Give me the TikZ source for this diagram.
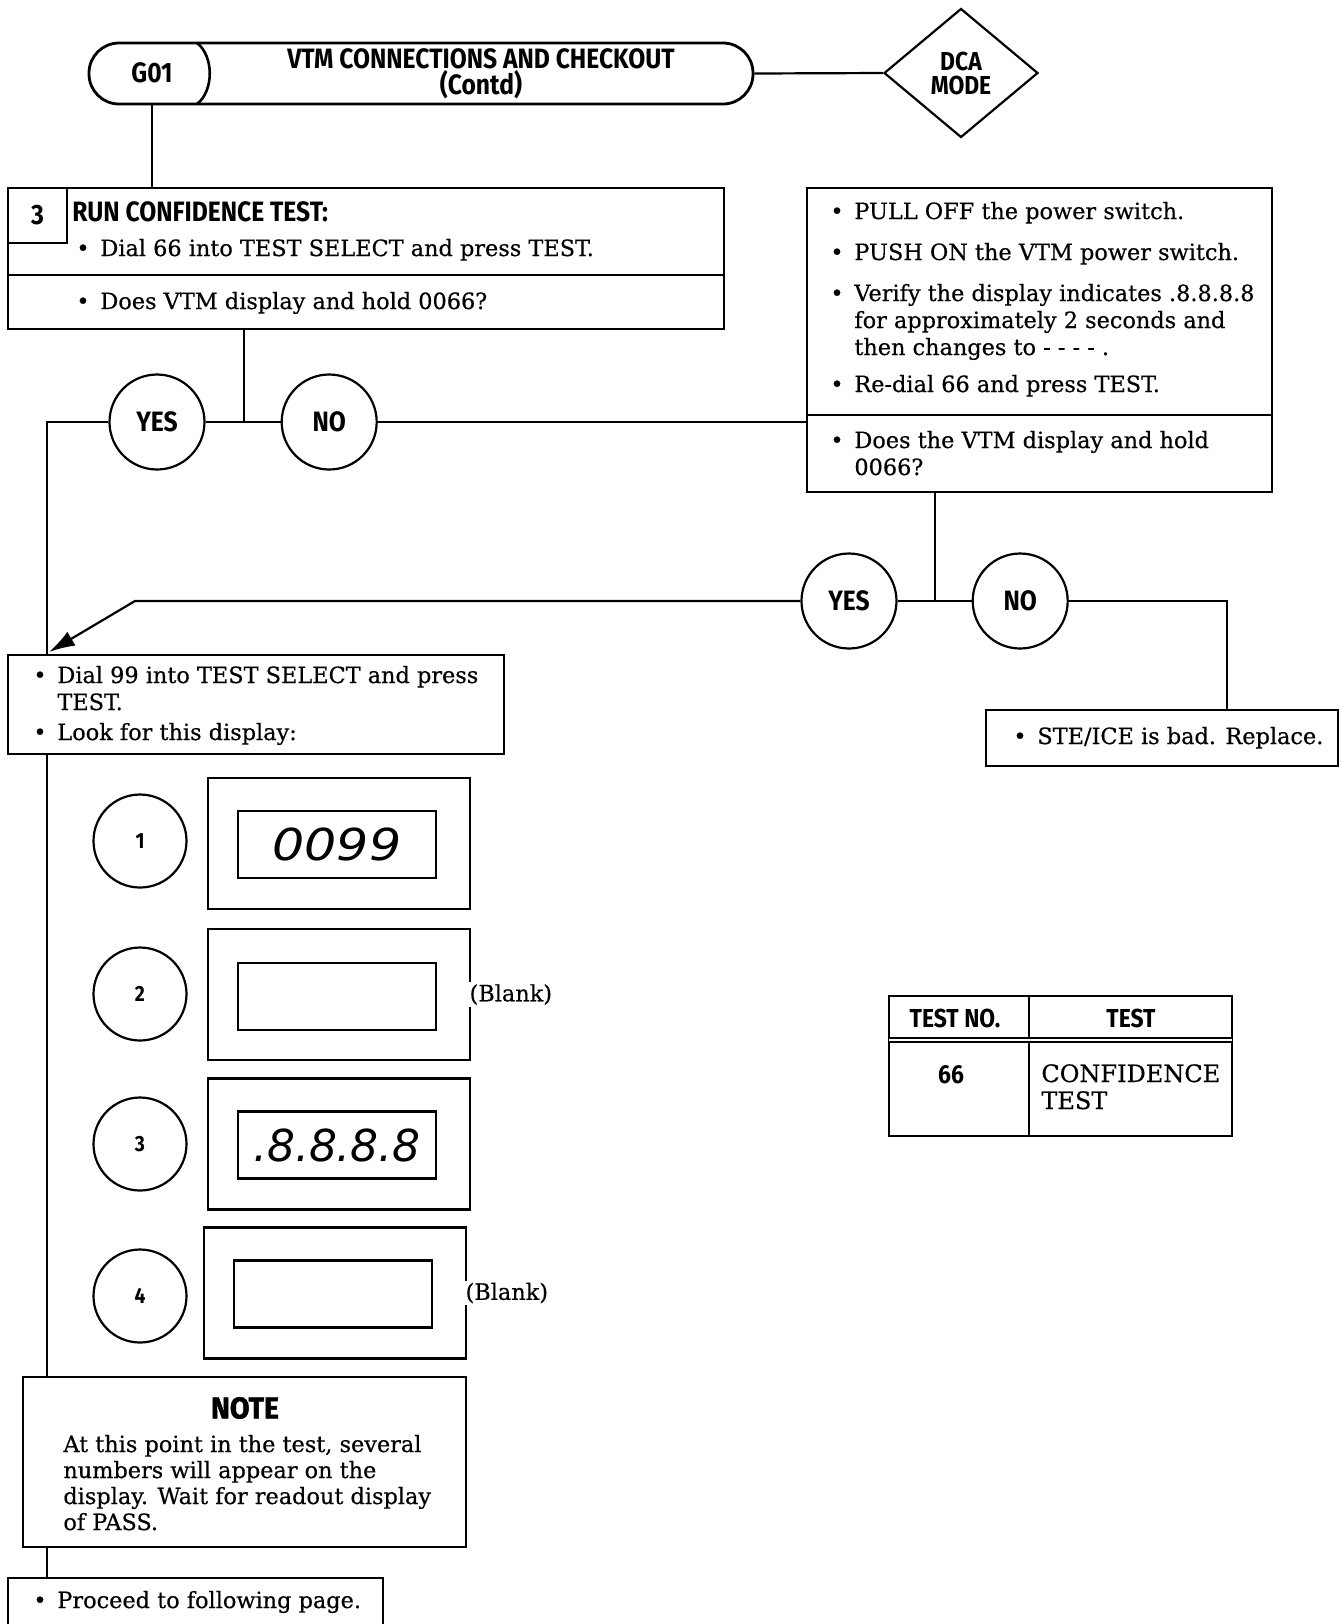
\documentclass[tikz,border=0pt]{standalone}
\usepackage{fontspec}
\setmainfont{DejaVu Serif}[FakeBold=0.5]
\newfontfamily\headfont[FakeStretch=0.88]{Fira Sans}
\newfontfamily\heavyfont[FakeStretch=0.95,FakeBold=1.6]{Fira Sans}
\newfontfamily\segfont{DejaVu Sans}
\usetikzlibrary{positioning,shapes.geometric,arrows.meta}

\newcommand{\bl}{\makebox[12pt][l]{\textbullet}}
\newcommand{\ind}{\hspace*{12pt}}
\newcommand{\lines}[1]{\begin{tabular}[t]{@{}l@{}}#1\end{tabular}}

\begin{document}
\begin{tikzpicture}[x=0.5pt, y=-0.5pt, font=\fontsize{11.2}{13.5}\selectfont,
          box/.style={draw, line width=1.4pt, inner sep=0pt},
          hd/.style={inner sep=0pt, font=\headfont\bfseries\fontsize{14}{12}\selectfont},
          ans/.style={draw, circle, line width=1.1pt, minimum size=47.5pt, inner sep=0pt,
                      font=\headfont\bfseries\fontsize{14}{14}\selectfont},
          num/.style={draw, circle, line width=1.1pt, minimum size=46.5pt, inner sep=0pt,
                      font=\headfont\bfseries\fontsize{11}{11}\selectfont},
          txt/.style={anchor=base west, inner sep=0pt},
          wire/.style={line width=1.1pt},
          disp/.style={draw, line width=1.2pt, minimum width=131pt, minimum height=65.5pt, inner sep=0pt},
          screen/.style={draw, line width=1.4pt, minimum width=99pt, minimum height=33.5pt, inner sep=0pt,
                         font=\segfont\itshape\fontsize{22}{22}\selectfont}]
        \useasboundingbox (0,0) rectangle (1341,1624);
        % header
        \node[box, rounded corners=15pt, minimum width=332pt, minimum height=30.5pt] (title) at (421,73.5) {};
        \draw[line width=1.3pt] (197,43) .. controls (214,56) and (214,91) .. (197,104);
        \node[hd] (g01) at (152,73) {G01};
        \node[hd, align=center] (ttl) at (481,74) {VTM CONNECTIONS AND CHECKOUT\\(Contd)};
        \node[box, diamond, line width=1.1pt, minimum width=77pt, minimum height=64.5pt,
              align=center, font=\headfont\bfseries\fontsize{13}{12}\selectfont] (dca) at (961,73) {DCA\\MODE};
        \draw[wire] (title.east) -- (dca.west);
        % step 3
        \node[box, minimum width=358pt, minimum height=70.5pt] (conf) at (366,258.5) {};
        \draw[line width=1.3pt] (conf.west |- 0,275) -- (conf.east |- 0,275);
        \node[box, anchor=north west, minimum width=29.5pt, minimum height=27.5pt, font=\headfont\bfseries\fontsize{14}{14}\selectfont] (stepno) at (conf.north west) {3};
        \node[hd, anchor=west] (runhd) at (72,212) {RUN CONFIDENCE TEST:};
        \node[txt] (dial66) at (76,256) {\bl Dial 66 into TEST SELECT and press TEST.};
        \node[txt] (holdq) at (76,309) {\bl Does VTM display and hold 0066?};
        \draw[wire] (title.south -| g01) -- (conf.north -| g01);
        % first answer
        \coordinate (jA) at (244,422);
        \coordinate (cornerA) at (47,422);
        \node[ans] (yesA) at (157,422) {YES};
        \node[ans, right=37.5pt of yesA] (noA) {NO};
        \draw[wire] (conf.south -| jA) -- (jA);
        \draw[wire] (yesA.east) -- (noA.west);
        % power cycle box
        \node[box, minimum width=232.5pt, minimum height=152pt] (chk) at (1039.5,340) {};
        \draw[line width=1.3pt] (chk.west |- 0,415) -- (chk.east |- 0,415);
        \node[txt] (pull) at (830,219) {\lines{\bl PULL OFF the power switch.\\[7pt]
          \bl PUSH ON the VTM power switch.\\[7pt]
          \bl Verify the display indicates .8.8.8.8\\
          \ind for approximately 2 seconds and\\
          \ind then changes to - - - - .\\[5pt]
          \bl Re-dial 66 and press TEST.}};
        \node[txt] (holdr) at (830,448) {\lines{\bl Does the VTM display and hold\\ \ind 0066?}};
        \draw[wire] (noA.east) -- (noA.east -| chk.west);
        % second answer
        \coordinate (jB) at (935,601);
        \coordinate (bend) at (135,601);
        \coordinate (tip) at (49,652);
        \coordinate (turn) at (1227,601);
        \node[ans] (yesB) at (849,601) {YES};
        \node[ans, right=37pt of yesB] (noB) {NO};
        \draw[wire] (chk.south -| jB) -- (jB);
        \draw[wire] (yesB.east) -- (noB.west);
        \draw[wire, -{Latex[length=13pt,width=8pt]}] (yesB.west) -- (bend) -- (tip);
        \node[box, minimum width=176pt, minimum height=28pt] (ste) at (1162,738) {};
        \node[txt] (stetxt) at (1013,744) {\bl STE/ICE is bad. Replace.};
        \draw[wire] (noB.east) -- (turn) -- (ste.north -| turn);
        % dial 99
        \node[box, minimum width=248pt, minimum height=49.5pt] (dial) at (256,704.5) {};
        \node[txt] (dial99) at (33,683) {\lines{\bl Dial 99 into TEST SELECT and press\\ \ind TEST.\\[1.5pt]
          \bl Look for this display:}};
        \draw[wire] (yesA.west) -- (cornerA) -- (dial.north -| cornerA);
        % displays
        \node[num] (n1) at (140,841) {1};
        \node[disp] (d1) at (339,843.5) {};
        \node[screen] (s1) at (337,844.5) {\scalebox{1.15}[1]{0099}};
        \node[num] (n2) at (140,994) {2};
        \node[disp] (d2) at (339,994.5) {};
        \node[screen] (s2) at (337,996.5) {};
        \node[fill=white, inner sep=1pt, anchor=west, xshift=-2pt] (blank2) at (d2.east) {(Blank)};
        \node[num] (n3) at (140,1144) {3};
        \node[disp] (d3) at (339,1144) {};
        \node[screen] (s3) at (337,1145) {.8.8.8.8};
        \node[num] (n4) at (140,1296) {4};
        \node[disp] (d4) at (335,1293) {};
        \node[screen] (s4) at (333,1294) {};
        \node[fill=white, inner sep=1pt, anchor=west, xshift=-2pt] (blank4) at (d4.east) {(Blank)};
        % note
        \node[box, minimum width=221.5pt, minimum height=85pt] (note) at (244.5,1462) {};
        \node[inner sep=0pt, font=\heavyfont\bfseries\fontsize{15}{15}\selectfont] (notehd) at (245,1408) {NOTE};
        \node[txt, font=\fontsize{11.2}{13}\selectfont] (notetxt) at (63,1452) {\lines{At this point in the test, several\\
          numbers will appear on the\\ display. Wait for readout display\\ of PASS.}};
        \draw[wire] (dial.south -| cornerA) -- (note.north -| cornerA);
        % next page
        \node[box, minimum width=187.5pt, minimum height=36pt] (proceed) at (195.5,1614) {};
        \node[txt] (proctxt) at (33,1608) {\bl Proceed to following page.};
        \draw[wire] (note.south -| cornerA) -- (proceed.north -| cornerA);
        % test table
        \node[box, minimum width=171.5pt, minimum height=70pt] (tbl) at (1060.5,1066) {};
        \draw[line width=1.3pt] (1029,996) -- (1029,1136);
        \draw[line width=1.3pt, double, double distance=0.8pt] (889,1040) -- (1232,1040);
        \node[hd, font=\headfont\bfseries\fontsize{13}{13}\selectfont] (thno) at (955,1018) {TEST NO.};
        \node[hd, font=\headfont\bfseries\fontsize{13}{13}\selectfont] (thtest) at (1131,1018) {TEST};
        \node[hd, font=\headfont\bfseries\fontsize{13}{13}\selectfont] (t66) at (951,1075) {66};
        \node[txt, font=\fontsize{12}{13.5}\selectfont] (tconf) at (1041,1082) {\lines{CONFIDENCE\\TEST}};
      \end{tikzpicture}
\end{document}
